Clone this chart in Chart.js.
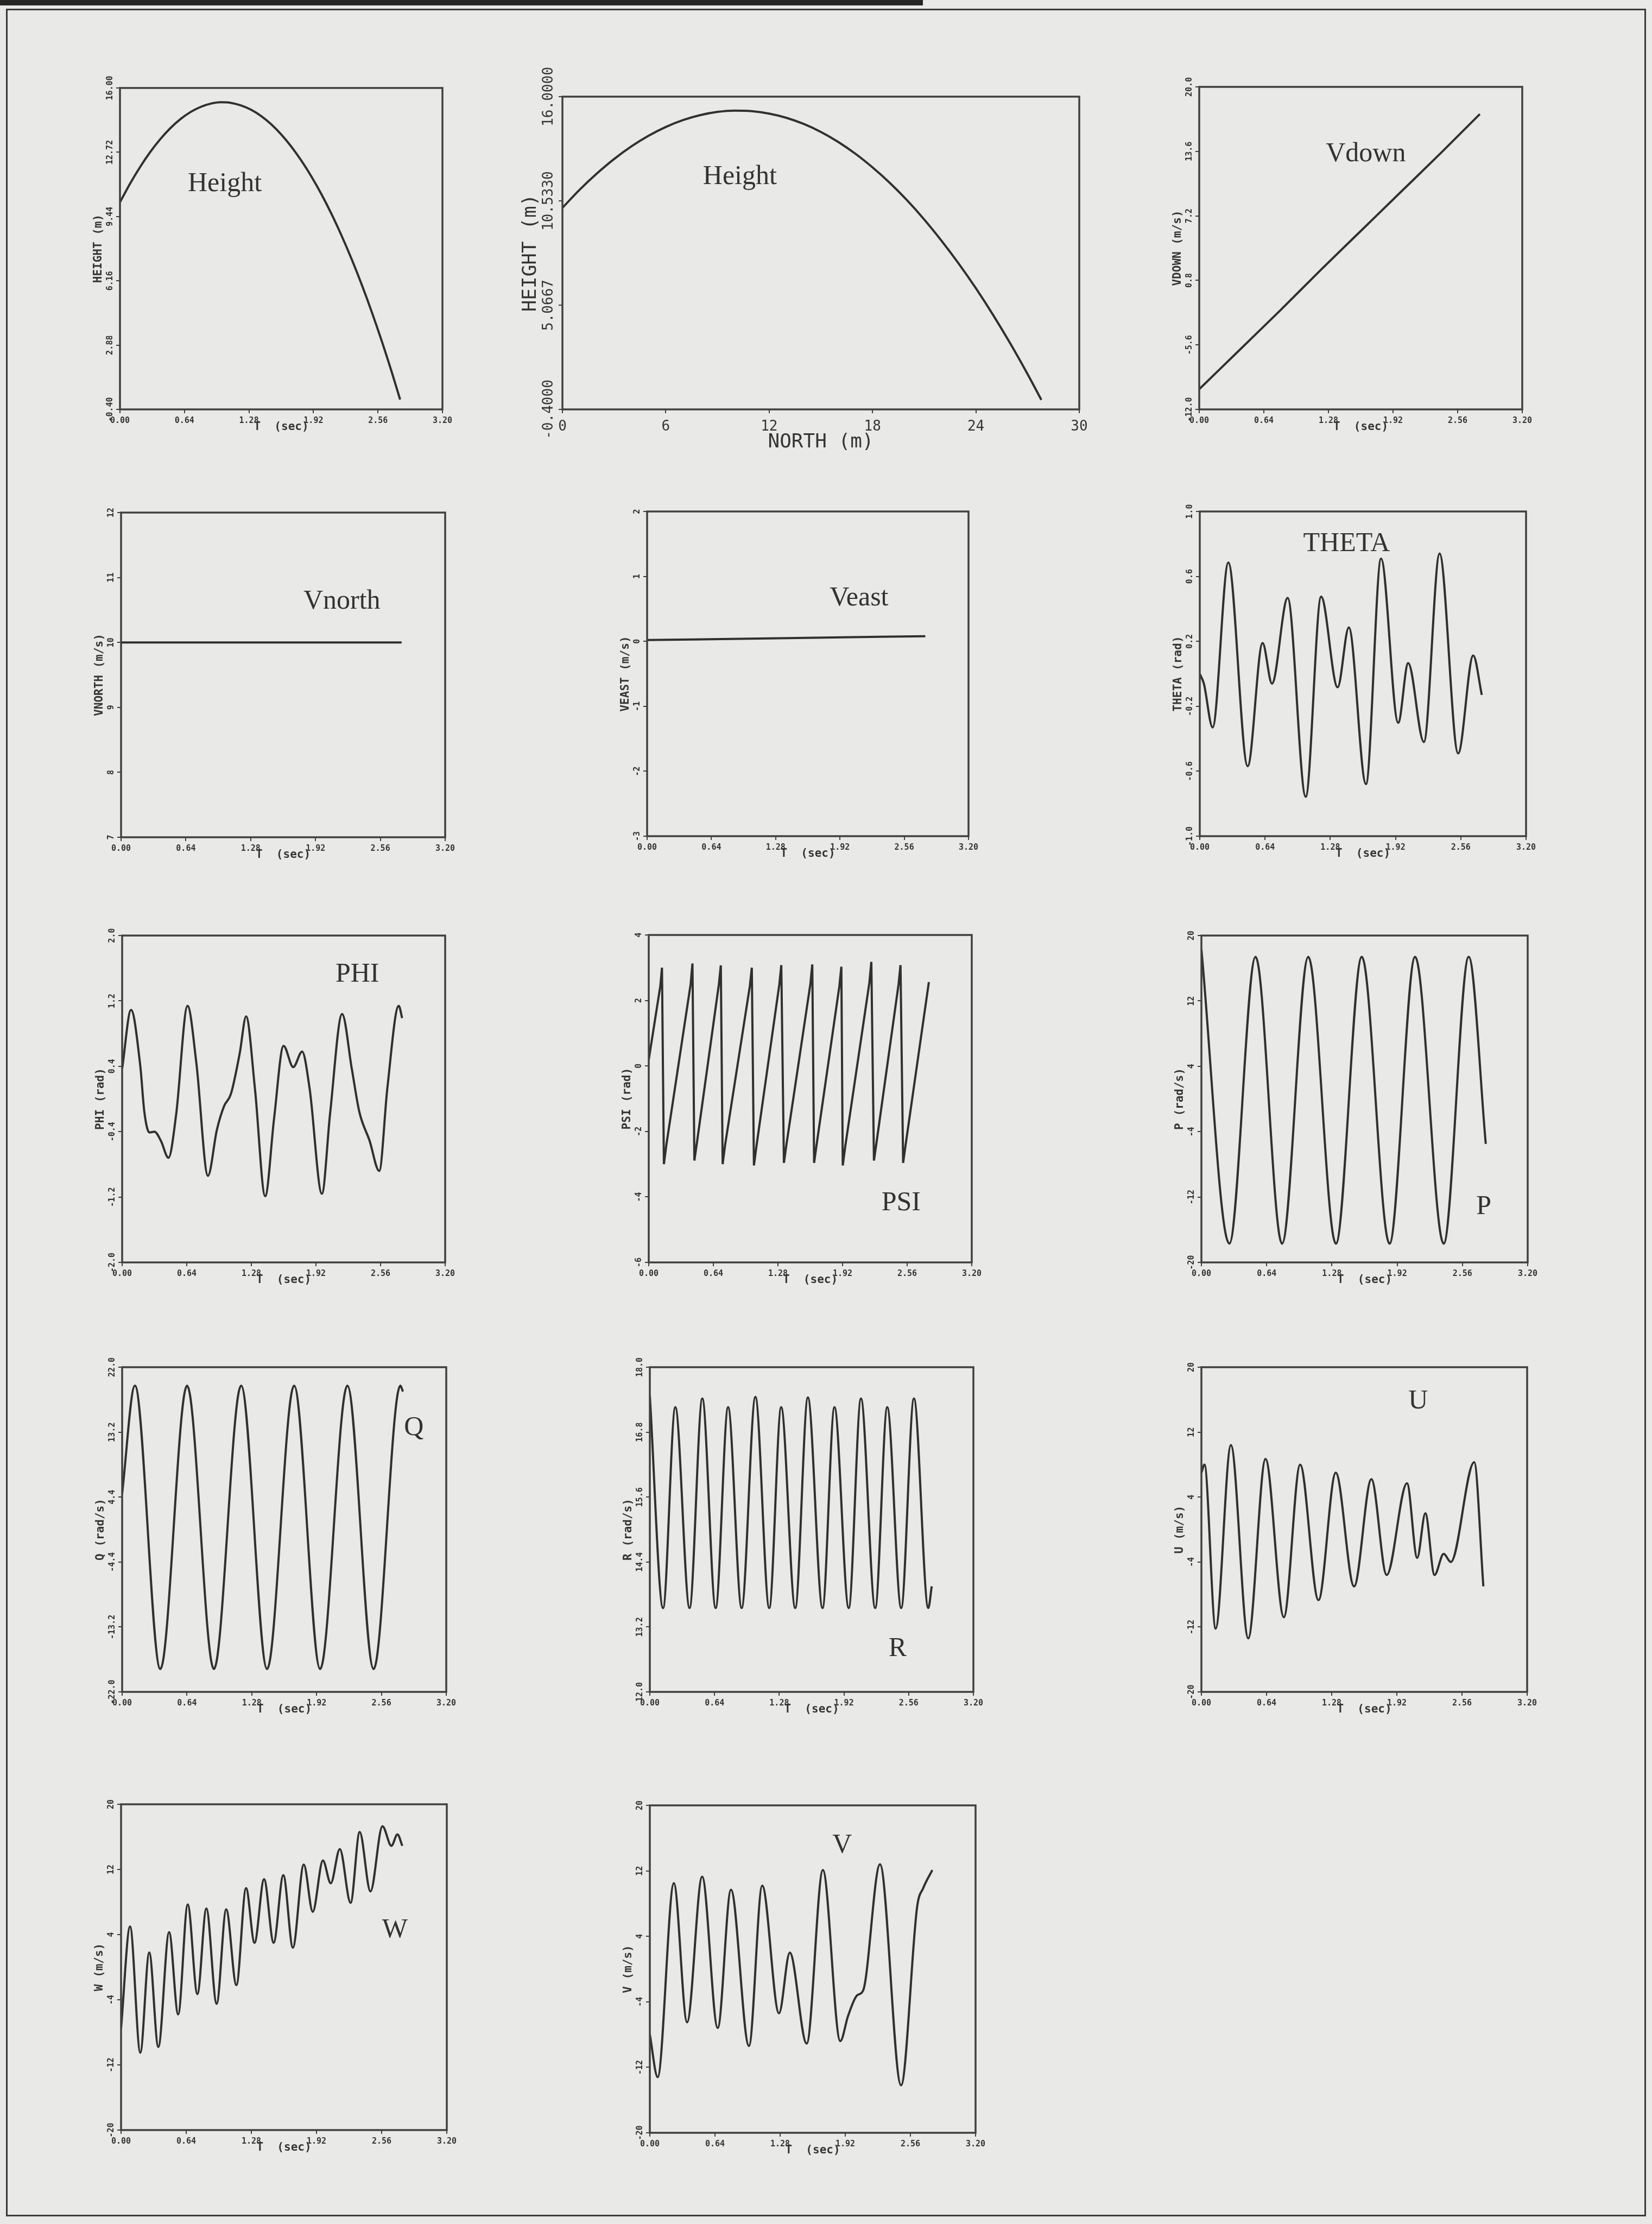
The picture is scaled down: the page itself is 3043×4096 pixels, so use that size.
<!DOCTYPE html>
<html>
<head>
<meta charset="utf-8">
<title>Flight simulation time histories</title>
<script src="https://cdn.jsdelivr.net/npm/chart.js@4.4.1/dist/chart.umd.min.js"></script>
<style>
  html, body { margin: 0; padding: 0; background: #e9e9e7; }
  #page { position: relative; width: 3043px; height: 4096px; overflow: hidden; background: #e9e9e7; }
  #page canvas { position: absolute; }
  .bar { position: absolute; background: #262626; }
  .frame { position: absolute; border: 3px solid #3a3a3a; box-sizing: border-box; }
</style>
</head>
<body>
<div id="page">
  <div class="bar" style="left:0;top:0;width:1700px;height:10px"></div>
  <div class="frame" style="left:11px;top:16px;width:3021px;height:4066px"></div>
</div>
<script>
// ---------- tick values and labels ----------
const timeTicks = [0, 0.64, 1.28, 1.92, 2.56, 3.20];
const timeTickLabels = ['0.00', '0.64', '1.28', '1.92', '2.56', '3.20'];
const northTicks = [0, 6, 12, 18, 24, 30];
const northTickLabels = ['0', '6', '12', '18', '24', '30'];

const heightTicks = [-0.40, 2.88, 6.16, 9.44, 12.72, 16.00];
const heightTickLabels = ['-0.40', '2.88', '6.16', '9.44', '12.72', '16.00'];
const heightNorthTicks = [-0.4, 5.0667, 10.533, 16.0];
const heightNorthTickLabels = ['-0.4000', '5.0667', '10.5330', '16.0000'];
const vdownTicks = [-12.0, -5.6, 0.8, 7.2, 13.6, 20.0];
const vdownTickLabels = ['-12.0', '-5.6', '0.8', '7.2', '13.6', '20.0'];
const vnorthTicks = [7, 8, 9, 10, 11, 12];
const vnorthTickLabels = ['7', '8', '9', '10', '11', '12'];
const veastTicks = [-3, -2, -1, 0, 1, 2];
const veastTickLabels = ['-3', '-2', '-1', '0', '1', '2'];
const thetaTicks = [-1.0, -0.6, -0.2, 0.2, 0.6, 1.0];
const thetaTickLabels = ['-1.0', '-0.6', '-0.2', '0.2', '0.6', '1.0'];
const phiTicks = [-2.0, -1.2, -0.4, 0.4, 1.2, 2.0];
const phiTickLabels = ['-2.0', '-1.2', '-0.4', '0.4', '1.2', '2.0'];
const psiTicks = [-6, -4, -2, 0, 2, 4];
const psiTickLabels = ['-6', '-4', '-2', '0', '2', '4'];
const rate20Ticks = [-20, -12, -4, 4, 12, 20];
const rate20TickLabels = ['-20', '-12', '-4', '4', '12', '20'];
const qTicks = [-22.0, -13.2, -4.4, 4.4, 13.2, 22.0];
const qTickLabels = ['-22.0', '-13.2', '-4.4', '4.4', '13.2', '22.0'];
const rTicks = [12.0, 13.2, 14.4, 15.6, 16.8, 18.0];
const rTickLabels = ['12.0', '13.2', '14.4', '15.6', '16.8', '18.0'];

// ---------- series ----------
const heightT = [0, 0.1, 0.2, 0.3, 0.4, 0.5, 0.6, 0.7, 0.8, 0.9, 1.0, 1.1, 1.2, 1.3, 1.4,
                 1.5, 1.6, 1.7, 1.8, 1.9, 2.0, 2.1, 2.2, 2.3, 2.4, 2.5, 2.6, 2.7, 2.78];
const heightV = [10.17, 11.12, 11.97, 12.73, 13.39, 13.95, 14.41, 14.77, 15.03, 15.20, 15.27,
                 15.24, 15.11, 14.89, 14.57, 14.15, 13.63, 13.01, 12.29, 11.48, 10.57, 9.56,
                 8.45, 7.25, 5.95, 4.55, 3.05, 1.45, 0.10];
const northM = [0, 1, 2, 3, 4, 5, 6, 7, 8, 9, 10, 11, 12, 13, 14,
                15, 16, 17, 18, 19, 20, 21, 22, 23, 24, 25, 26, 27, 27.8];

const vdownT = [0, 0.4, 0.8, 1.2, 1.6, 2.0, 2.4, 2.78];
const vdownV = [-10.0, -6.1, -2.2, 1.8, 5.7, 9.6, 13.5, 17.3];

const vnorthT = [0, 1.4, 2.77];
const vnorthV = [10.0, 10.0, 10.0];

const veastT = [0, 1.4, 2.77];
const veastV = [0.02, 0.05, 0.08];

const thetaT = [0, 0.04, 0.126, 0.28, 0.47, 0.616, 0.708, 0.862, 1.039, 1.19, 1.352, 1.462,
                1.63, 1.778, 1.946, 2.044, 2.198, 2.352, 2.534, 2.682, 2.766];
const thetaV = [0.0, -0.06, -0.33, 0.686, -0.569, 0.19, -0.06, 0.467, -0.757, 0.475, -0.083, 0.286,
                -0.679, 0.71, -0.302, 0.066, -0.42, 0.741, -0.49, 0.113, -0.13];

const phiT = [0, 0.088, 0.18, 0.22, 0.27, 0.32, 0.383, 0.459, 0.535, 0.648, 0.736, 0.85, 0.938,
              1.009, 1.077, 1.165, 1.228, 1.316, 1.417, 1.505, 1.599, 1.695, 1.783, 1.858, 1.979,
              2.06, 2.179, 2.275, 2.35, 2.451, 2.547, 2.627, 2.74, 2.774];
const phiV = [0.37, 1.09, 0.40, -0.16, -0.41, -0.40, -0.51, -0.72, -0.19, 1.14, 0.43, -0.94, -0.38,
              -0.09, 0.06, 0.56, 1.01, 0.12, -1.19, -0.24, 0.65, 0.39, 0.58, 0.12, -1.16,
              -0.18, 1.04, 0.37, -0.16, -0.51, -0.88, 0.13, 1.14, 0.99];

const psiT = [0, 0.115, 0.131, 0.150, 0.175, 0.415, 0.433, 0.452, 0.477, 0.695, 0.714, 0.732,
              0.757, 1.002, 1.021, 1.042, 1.067, 1.294, 1.313, 1.339, 1.364, 1.601, 1.620, 1.638,
              1.663, 1.889, 1.908, 1.922, 1.947, 2.186, 2.205, 2.231, 2.256, 2.475, 2.494, 2.520,
              2.545, 2.775];
const psiV = [0.19, 2.45, 3.00, -3.00, -2.40, 2.50, 3.13, -2.89, -2.35, 2.50, 3.07, -3.00,
              -2.40, 2.45, 3.00, -3.04, -2.45, 2.50, 3.08, -2.96, -2.40, 2.50, 3.10, -2.96,
              -2.40, 2.45, 3.03, -3.04, -2.45, 2.55, 3.18, -2.89, -2.35, 2.50, 3.08, -2.96,
              -2.40, 2.56];

const pT = [0, 0.274, 0.531, 0.791, 1.048, 1.319, 1.573, 1.845, 2.096, 2.376, 2.622, 2.789];
const pV = [18.3, -17.7, 17.4, -17.7, 17.4, -17.7, 17.4, -17.7, 17.4, -17.7, 17.4, -5.5];

const qT = [0, 0.126, 0.377, 0.641, 0.906, 1.175, 1.431, 1.698, 1.955, 2.224, 2.483, 2.747, 2.772];
const qV = [4.9, 19.5, -18.9, 19.5, -18.9, 19.5, -18.9, 19.5, -18.9, 19.5, -18.9, 19.5, 18.7];

const rT = [0, 0.131, 0.252, 0.393, 0.519, 0.651, 0.774, 0.908, 1.044, 1.181, 1.299, 1.438,
            1.563, 1.708, 1.826, 1.967, 2.088, 2.229, 2.348, 2.486, 2.612, 2.754, 2.788];
const rV = [17.47, 13.55, 17.26, 13.55, 17.42, 13.55, 17.26, 13.55, 17.45, 13.55, 17.26, 13.55,
            17.44, 13.55, 17.26, 13.55, 17.42, 13.55, 17.26, 13.55, 17.42, 13.55, 13.95];

const uT = [0, 0.03, 0.14, 0.29, 0.46, 0.63, 0.81, 0.97, 1.15, 1.32, 1.50, 1.67, 1.82, 2.02,
            2.12, 2.20, 2.29, 2.38, 2.45, 2.68, 2.77];
const uV = [7.0, 8.0, -12.2, 10.4, -13.4, 8.7, -10.8, 8.0, -8.7, 7.0, -7.0, 6.2, -5.6, 5.7,
            -3.5, 2.0, -5.6, -3.0, -4.0, 8.3, -7.0];

const wT = [0, 0.0885, 0.189, 0.277, 0.366, 0.472, 0.561, 0.655, 0.75, 0.838, 0.939, 1.033,
            1.133, 1.228, 1.311, 1.405, 1.499, 1.594, 1.688, 1.795, 1.883, 1.983, 2.06, 2.149,
            2.255, 2.344, 2.45, 2.568, 2.656, 2.715, 2.763];
const wV = [-7.5, 5.0, -10.5, 1.8, -9.8, 4.3, -5.8, 7.7, -3.3, 7.2, -4.5, 7.1,
            -2.2, 9.7, 3.0, 10.8, 3.0, 11.3, 2.4, 12.6, 6.8, 13.1, 10.3, 14.5,
            7.9, 16.6, 9.3, 17.3, 14.9, 16.3, 14.9];

const vT = [0, 0.077, 0.236, 0.366, 0.514, 0.667, 0.797, 0.974, 1.104, 1.269, 1.375, 1.541,
            1.70, 1.871, 1.948, 2.037, 2.096, 2.261, 2.468, 2.627, 2.686, 2.775];
const vV = [-8.0, -13.2, 10.5, -6.5, 11.3, -7.2, 9.7, -9.4, 10.2, -5.4, 2.0, -9.1,
            12.1, -8.8, -5.7, -3.2, -2.6, 12.8, -14.2, 7.7, 9.9, 12.1];

// ---------- page layout (plot-box rectangles in page pixels) ----------
const BOX = {
  heightT: { x: 220.7, y: 162.4, w: 594.4, h: 592.0 },
  heightN: { x: 1036.3, y: 178.3, w: 951.6, h: 576.0 },
  vdown:   { x: 2209.1, y: 160.0, w: 594.9, h: 594.0 },
  vnorth:  { x: 223.0, y: 943.9, w: 596.7, h: 597.9 },
  veast:   { x: 1192.2, y: 941.6, w: 592.0, h: 597.9 },
  theta:   { x: 2210.3, y: 941.6, w: 600.8, h: 597.9 },
  phi:     { x: 224.8, y: 1722.5, w: 594.9, h: 602.0 },
  psi:     { x: 1195.2, y: 1721.9, w: 594.9, h: 602.6 },
  p:       { x: 2213.2, y: 1722.5, w: 601.4, h: 602.0 },
  q:       { x: 224.8, y: 2518.0, w: 596.7, h: 598.0 },
  r:       { x: 1197.0, y: 2518.0, w: 595.5, h: 598.0 },
  u:       { x: 2213.2, y: 2518.0, w: 599.7, h: 598.0 },
  w:       { x: 223.0, y: 3323.1, w: 599.7, h: 599.7 },
  v:       { x: 1197.0, y: 3324.9, w: 600.2, h: 602.6 }
};

const INK = '#303030';
const MONO = "'DejaVu Sans Mono', monospace";
const SERIF = "'Liberation Serif', 'Times New Roman', serif";

const timeAxis = { ticks: timeTicks, labels: timeTickLabels, title: 'T  (sec)' };

const panels = [
  { box: BOX.heightT, xs: heightT, ys: heightV, x: timeAxis,
    y: { ticks: heightTicks, labels: heightTickLabels, title: 'HEIGHT (m)' },
    tag: { text: 'Height', at: [1.04, 11.1] } },
  { box: BOX.heightN, xs: northM, ys: heightV, large: true,
    x: { ticks: northTicks, labels: northTickLabels, title: 'NORTH (m)' },
    y: { ticks: heightNorthTicks, labels: heightNorthTickLabels, title: 'HEIGHT (m)' },
    tag: { text: 'Height', at: [10.3, 11.8] } },
  { box: BOX.vdown, xs: vdownT, ys: vdownV, x: timeAxis,
    y: { ticks: vdownTicks, labels: vdownTickLabels, title: 'VDOWN (m/s)' },
    tag: { text: 'Vdown', at: [1.65, 13.35] } },
  { box: BOX.vnorth, xs: vnorthT, ys: vnorthV, x: timeAxis,
    y: { ticks: vnorthTicks, labels: vnorthTickLabels, title: 'VNORTH (m/s)' },
    tag: { text: 'Vnorth', at: [2.18, 10.63] } },
  { box: BOX.veast, xs: veastT, ys: veastV, x: timeAxis,
    y: { ticks: veastTicks, labels: veastTickLabels, title: 'VEAST (m/s)' },
    tag: { text: 'Veast', at: [2.11, 0.66] } },
  { box: BOX.theta, xs: thetaT, ys: thetaV, x: timeAxis,
    y: { ticks: thetaTicks, labels: thetaTickLabels, title: 'THETA (rad)' },
    tag: { text: 'THETA', at: [1.44, 0.80] } },
  { box: BOX.phi, xs: phiT, ys: phiV, x: timeAxis,
    y: { ticks: phiTicks, labels: phiTickLabels, title: 'PHI (rad)' },
    tag: { text: 'PHI', at: [2.33, 1.52] } },
  { box: BOX.psi, xs: psiT, ys: psiV, x: timeAxis, straight: true,
    y: { ticks: psiTicks, labels: psiTickLabels, title: 'PSI (rad)' },
    tag: { text: 'PSI', at: [2.50, -4.19] } },
  { box: BOX.p, xs: pT, ys: pV, x: timeAxis,
    y: { ticks: rate20Ticks, labels: rate20TickLabels, title: 'P (rad/s)' },
    tag: { text: 'P', at: [2.77, -13.2] } },
  { box: BOX.q, xs: qT, ys: qV, x: timeAxis,
    y: { ticks: qTicks, labels: qTickLabels, title: 'Q (rad/s)' },
    tag: { text: 'Q', at: [2.88, 13.8] } },
  { box: BOX.r, xs: rT, ys: rV, x: timeAxis,
    y: { ticks: rTicks, labels: rTickLabels, title: 'R (rad/s)' },
    tag: { text: 'R', at: [2.45, 12.79] } },
  { box: BOX.u, xs: uT, ys: uV, x: timeAxis,
    y: { ticks: rate20Ticks, labels: rate20TickLabels, title: 'U (m/s)' },
    tag: { text: 'U', at: [2.13, 15.8] } },
  { box: BOX.w, xs: wT, ys: wV, x: timeAxis,
    y: { ticks: rate20Ticks, labels: rate20TickLabels, title: 'W (m/s)' },
    tag: { text: 'W', at: [2.69, 4.57] } },
  { box: BOX.v, xs: vT, ys: vV, x: timeAxis,
    y: { ticks: rate20Ticks, labels: rate20TickLabels, title: 'V (m/s)' },
    tag: { text: 'V', at: [1.89, 15.1] } }
];

// ---------- plugins: plot frame and in-plot caption ----------
const framePlugin = {
  id: 'frame',
  afterDatasetsDraw(chart, args, opts) {
    const { ctx, chartArea: a } = chart;
    ctx.save();
    ctx.strokeStyle = opts.color;
    ctx.lineWidth = opts.width;
    ctx.strokeRect(a.left, a.top, a.right - a.left, a.bottom - a.top);
    ctx.restore();
  }
};
const captionPlugin = {
  id: 'caption',
  afterDatasetsDraw(chart, args, opts) {
    const { ctx, scales } = chart;
    const px = scales.x.getPixelForValue(opts.at[0]);
    const py = scales.y.getPixelForValue(opts.at[1]);
    ctx.save();
    ctx.font = opts.font;
    ctx.fillStyle = opts.color;
    ctx.textAlign = 'center';
    ctx.textBaseline = 'middle';
    ctx.fillText(opts.text, px, py);
    ctx.restore();
  }
};

const measureCtx = document.createElement('canvas').getContext('2d');
function widestLabel(labels, font) {
  measureCtx.font = (font.weight ? font.weight + ' ' : '') + font.size + 'px ' + font.family;
  return Math.max.apply(null, labels.map(s => measureCtx.measureText(s).width));
}

function buildPanel(p) {
  const big = !!p.large;
  const tickFont = big ? { family: MONO, size: 26, weight: 'normal' } : { family: MONO, size: 15, weight: 'bold' };
  const titleFont = big ? { family: MONO, size: 36, weight: 'normal' } : { family: MONO, size: 21, weight: 'bold' };
  const tickLen = 7;
  const L = big ? 100 : 72, R = 44, T = big ? 120 : 48, B = big ? 96 : 62;
  // offsets of label centres from the plot frame
  const yLabelOff = big ? 25 : 18, yTitleOff = big ? 58 : 39;
  const xLabelOff = big ? 32 : 21, xTitleOff = big ? 61 : 33;
  const tickLH = tickFont.size * 1.2, titleLH = titleFont.size * 1.2;

  const W = Math.round(p.box.w + L + R), H = Math.round(p.box.h + T + B);
  const cv = document.createElement('canvas');
  cv.width = W; cv.height = H;
  cv.style.width = W + 'px'; cv.style.height = H + 'px';
  cv.style.left = Math.round(p.box.x - L) + 'px';
  cv.style.top = Math.round(p.box.y - T) + 'px';
  document.getElementById('page').appendChild(cv);

  const yWidest = widestLabel(p.y.labels, tickFont);
  const grid = { display: true, drawOnChartArea: false, drawTicks: true, tickLength: tickLen, color: '#3e3e3e', lineWidth: 2 };

  const data = p.xs.map((x, i) => ({ x: x, y: p.ys[i] }));

  return new Chart(cv, {
    type: 'line',
    data: { datasets: [{ data: data, borderColor: INK, borderWidth: 4, pointRadius: 0,
      cubicInterpolationMode: p.straight ? 'default' : 'monotone', tension: 0, fill: false }] },
    options: {
      responsive: false, animation: false, devicePixelRatio: 1,
      layout: { padding: { left: 0, top: T, right: R, bottom: 0 } },
      plugins: {
        legend: { display: false }, tooltip: { enabled: false },
        frame: { color: '#404040', width: 3.5 },
        caption: { text: p.tag.text, at: p.tag.at, font: '50px ' + SERIF, color: '#333333' }
      },
      scales: {
        x: {
          type: 'linear', position: 'bottom',
          min: p.x.ticks[0], max: p.x.ticks[p.x.ticks.length - 1],
          afterBuildTicks: s => { s.ticks = p.x.ticks.map(v => ({ value: v })); },
          afterFit: s => { s.height = B; },
          grid: grid, border: { display: false },
          ticks: { autoSkip: false, minRotation: 0, maxRotation: 0, font: tickFont, color: '#353535',
            padding: xLabelOff - tickLen - tickLH / 2,
            callback: (v, i) => p.x.labels[i] },
          title: { display: true, text: p.x.title, font: titleFont, color: '#353535',
            padding: { top: 0, bottom: B - xTitleOff - titleLH / 2 } }
        },
        y: {
          type: 'linear', position: 'left',
          min: p.y.ticks[0], max: p.y.ticks[p.y.ticks.length - 1],
          afterBuildTicks: s => { s.ticks = p.y.ticks.map(v => ({ value: v })); },
          afterFit: s => { s.width = L; },
          grid: grid, border: { display: false },
          ticks: { autoSkip: false, minRotation: 90, maxRotation: 90, crossAlign: 'center',
            font: tickFont, color: '#353535',
            padding: yLabelOff - tickLen - yWidest / 2,
            callback: (v, i) => p.y.labels[i] },
          title: { display: true, text: p.y.title, font: titleFont, color: '#353535',
            padding: { top: L - yTitleOff - titleLH / 2, bottom: 0 } }
        }
      }
    },
    plugins: [framePlugin, captionPlugin]
  });
}

panels.forEach(buildPanel);
</script>
</body>
</html>
